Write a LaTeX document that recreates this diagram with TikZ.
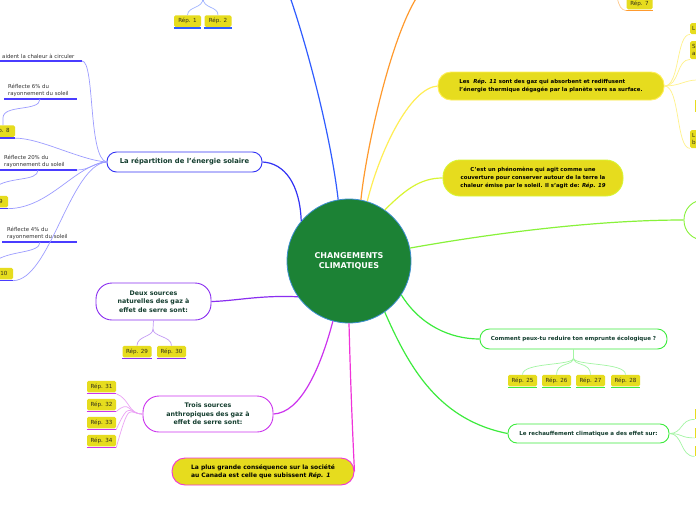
\documentclass[tikz,border=0pt]{standalone}
\usepackage{fontspec}
\setmainfont{DejaVu Sans}
\definecolor{cfill}{HTML}{1C8235}
\definecolor{cring}{HTML}{3D8FD1}
\definecolor{cyel}{HTML}{E6DC1E}
\definecolor{ctxt}{HTML}{133D2E}
\definecolor{crtxt}{HTML}{33301A}
\definecolor{ctopblue}{HTML}{2F5CFF}
\definecolor{ltopblue}{HTML}{A0B4FF}
\definecolor{cblue}{HTML}{3333F5}
\definecolor{lblue}{HTML}{9C9CFF}
\definecolor{cul}{HTML}{4A3CFF}
\definecolor{cpurp}{HTML}{8A2EF0}
\definecolor{lpurp}{HTML}{C49CF5}
\definecolor{cviol}{HTML}{CC33EE}
\definecolor{lviol}{HTML}{EBA3F5}
\definecolor{cpink}{HTML}{F033D9}
\definecolor{corange}{HTML}{FF9A2E}
\definecolor{lorange}{HTML}{FFC98A}
\definecolor{cyline}{HTML}{FFEE55}
\definecolor{lyline}{HTML}{FFF28A}
\definecolor{cyg}{HTML}{D9F533}
\definecolor{clg}{HTML}{88F23A}
\definecolor{cgreen}{HTML}{3DEB3D}
\definecolor{lgreen}{HTML}{A3F5A3}
\newcommand\ftopic{\fontsize{6.3}{8.4}\selectfont\bfseries}
\newcommand\ftopicL{\fontsize{6.8}{8.4}\selectfont\bfseries}
\newcommand\ftopicS{\fontsize{5.5}{8.4}\selectfont\bfseries}
\newcommand\fyel{\fontsize{5.4}{8.4}\selectfont\bfseries}
\newcommand\fplus{\fontsize{6.0}{8.2}\selectfont\bfseries}
\newcommand\frep{\fontsize{5.6}{6.5}\selectfont}
\newcommand\fleft{\fontsize{5.4}{7.2}\selectfont}
\newcommand\fcentre{\fontsize{8}{10}\selectfont\bfseries}
\tikzset{
  topic/.style={draw, fill=white, line width=0.9pt, inner sep=0pt, text=ctxt, font=\ftopic, align=center},
  yeltopic/.style={draw, fill=cyel, line width=0.9pt, inner sep=0pt, text=black, font=\fyel},
  repbox/.style={fill=cyel, rounded corners=1.5pt, minimum width=29pt, minimum height=11.5pt, inner sep=0pt, text=crtxt, font=\frep},
  uline/.style={line width=1.4pt},
  main/.style={line width=1.2pt},
  sub/.style={line width=0.7pt},
  lefttext/.style={inner sep=0pt, text=black!80, font=\fleft, align=left}
}
\begin{document}
\begin{tikzpicture}[x=1pt,y=-1pt]
\useasboundingbox (0,0) rectangle (696,520);
\clip (0,0) rectangle (696,520);
\fill[white] (0,0) rectangle (696,520);

\coordinate (topblueend) at (290,-3);
\coordinate (toporangeend) at (417,-3);
\coordinate (rep7stub) at (617,-3);
\coordinate (rep12stub) at (203,-2);

% centre
\node[circle, fill=cfill, draw=cring, line width=0.8pt, minimum size=124pt, inner sep=0pt, text=white, font=\fcentre, align=center] (c) at (349,261) {CHANGEMENTS\\CLIMATIQUES};

% topics
\node[topic, draw=cblue, minimum width=155pt, minimum height=20pt, rounded corners=9.5pt, font=\ftopicL] (repart) at (184.5,162) {La répartition de l'énergie solaire};
\node[topic, draw=cpurp, minimum width=115pt, minimum height=37pt, rounded corners=16pt] (deux) at (153.5,301.5) {Deux sources\\naturelles des gaz à\\effet de serre sont:};
\node[topic, draw=cviol, minimum width=130pt, minimum height=36pt, rounded corners=16pt] (trois) at (208,414) {Trois sources\\anthropiques des gaz à\\effet de serre sont:};
\node[yeltopic, draw=cpink, minimum width=182pt, minimum height=27pt, rounded corners=13pt, align=left, font=\fplus] (plus) at (263,471.5) {La plus grande conséquence sur la société\\au Canada est celle que subissent \textit{Rép. 1}};
\node[yeltopic, draw=cyline, minimum width=226pt, minimum height=28pt, rounded corners=13pt, align=left] (les) at (551,86) {Les \ \textit{Rép. 11} sont des gaz qui absorbent et rediffusent\\l'énergie thermique dégagée par la planète vers sa surface.};
\node[yeltopic, draw=cyg, minimum width=180pt, minimum height=36pt, rounded corners=17pt, align=center] (cest) at (533,178) {C'est un phénomène qui agit comme une\\couverture pour conserver autour de la terre la\\chaleur émise par le soleil. Il s'agit de: \textit{Rép. 19}};
\node[topic, draw=cgreen, minimum width=187pt, minimum height=20pt, rounded corners=9.5pt, font=\ftopicS] (comment) at (573.5,339) {Comment peux-tu reduire ton emprunte écologique ?};
\node[topic, draw=cgreen, minimum width=161pt, minimum height=19pt, rounded corners=9pt, font=\ftopicS] (rech) at (588.5,433.5) {Le rechauffement climatique a des effet sur:};
\node[topic, draw=clg, minimum width=56pt, minimum height=40pt, rounded corners=19.5pt] (rightnode) at (712,220) {};

% main connectors
\draw[main, ctopblue] (c.100) .. controls (330,130) and (305,40) .. (topblueend);
\draw[main, corange] (c.79) .. controls (366,150) and (390,40) .. (toporangeend);
\draw[main, cyline] (c.73) .. controls (380,150) and (410,88) .. (les.west);
\draw[main, cyg] (c.55) .. controls (405,190) and (420,178) .. (cest.west);
\draw[main, clg] (c.12) .. controls (500,232) and (600,220) .. (rightnode.west);
\draw[main, cgreen] (c.-33) .. controls (420,325) and (450,339) .. (comment.west);
\draw[main, cgreen] (c.-55) .. controls (410,370) and (440,420) .. (rech.west);
\draw[main, cpink] (c.-90) .. controls (351,400) and (353,440) .. (plus.east);
\draw[main, cviol] (c.-105) .. controls (320,370) and (300,413) .. (trois.east);
\draw[main, cpurp] (c.-145) .. controls (260,295) and (235,301) .. (deux.east);
\draw[main, cblue] (c.140) .. controls (300,185) and (285,163) .. (repart.east);

% ---- Rép boxes
\node[repbox, minimum width=27pt] (r1) at (187.5,21) {Rép. 1};
\node[repbox, minimum width=27pt] (r2) at (218,21) {Rép. 2};
\node[repbox, minimum width=26pt] (r7) at (639.5,3.5) {Rép. 7};
\node[repbox] (r8) at (0.5,131) {Rép. 8};
\node[repbox] (r9) at (-6.5,201.5) {Rép. 9};
\node[repbox, minimum width=33pt] (r10) at (-3.5,273.5) {Rép. 10};
\node[repbox] (r29) at (137,351.5) {Rép. 29};
\node[repbox] (r30) at (171.5,351.5) {Rép. 30};
\node[repbox] (r31) at (101.5,386.5) {Rép. 31};
\node[repbox] (r32) at (101.5,404.5) {Rép. 32};
\node[repbox] (r33) at (101.5,422.5) {Rép. 33};
\node[repbox] (r34) at (101.5,440.5) {Rép. 34};
\node[repbox] (r25) at (522.5,380.5) {Rép. 25};
\node[repbox] (r26) at (556.5,380.5) {Rép. 26};
\node[repbox] (r27) at (590.5,380.5) {Rép. 27};
\node[repbox] (r28) at (625.5,380.5) {Rép. 28};

\foreach \n/\col in {r1/ctopblue, r2/ctopblue, r7/corange, r8/cul, r9/cul, r10/cul, r29/cpurp, r30/cpurp, r31/cviol, r32/cviol, r33/cviol, r34/cviol, r25/cgreen, r26/cgreen, r27/cgreen, r28/cgreen}
  \draw[uline, \col] ([yshift=-1.2pt]\n.south west) -- ([yshift=-1.2pt]\n.south east);

% partial yellow boxes at right edge
\node[fill=cyel, rounded corners=1.5pt, minimum width=20pt, minimum height=11pt, inner sep=0pt, anchor=north west, text=crtxt, font=\frep, align=left, text width=16pt] (ry1) at (690,23) {L};
\node[fill=cyel, rounded corners=1.5pt, minimum width=20pt, minimum height=18pt, inner sep=0pt, anchor=north west, text=crtxt, font=\frep, align=left, text width=16pt] (ry2) at (690,41) {S\\a};
\node[fill=cyel, minimum width=10pt, minimum height=12pt, inner sep=0pt, anchor=north west] (ry3) at (694.5,100) {};
\node[fill=cyel, rounded corners=1.5pt, minimum width=20pt, minimum height=18pt, inner sep=0pt, anchor=north west, text=crtxt, font=\frep, align=left, text width=16pt] (ry4) at (690,130) {L\\b};
\coordinate (ryedge) at (697,80);
\node[fill=cyel, minimum width=10pt, minimum height=10pt, inner sep=0pt, anchor=north west] (rg1) at (694.5,409) {};
\node[fill=cyel, minimum width=10pt, minimum height=10pt, inner sep=0pt, anchor=north west] (rg2) at (694.5,427.5) {};
\node[fill=cyel, minimum width=10pt, minimum height=10pt, inner sep=0pt, anchor=north west] (rg3) at (694.5,446) {};

% ---- left texts
\node[lefttext, anchor=south west] (taid) at (2,59) {aident la chaleur à circuler};
\node[lefttext, anchor=south west] (t6) at (8,97) {Réflecte 6\% du\\rayonnement du soleil};
\node[lefttext, anchor=south west] (t20) at (4,168) {Réflecte 20\% du\\rayonnement du soleil};
\node[lefttext, anchor=south west] (t4) at (7,240) {Réflecte 4\% du\\rayonnement du soleil};
\coordinate (uaidA) at (-2,61); \coordinate (uaidB) at (82,61);
\coordinate (u6A) at (4,99); \coordinate (u6B) at (77,99); \coordinate (u6M) at (40,99);
\coordinate (u20A) at (-2,170); \coordinate (u20B) at (77,170); \coordinate (u20M) at (38,170);
\coordinate (u4A) at (2,242); \coordinate (u4B) at (77,242); \coordinate (u4M) at (40,242);
\draw[uline, cul] (uaidA) -- (uaidB);
\draw[uline, cul] (u6A) -- (u6B);
\draw[uline, cul] (u20A) -- (u20B);
\draw[uline, cul] (u4A) -- (u4B);
\coordinate (off20) at (-6,188);
\coordinate (off4) at (-6,262);

% ---- sub connectors
\draw[sub, lblue] (repart.west) .. controls (88,158) and (95,61) .. (uaidB);
\draw[sub, lblue] (repart.west) .. controls (80,160) and (40,138) .. ([yshift=-1.2pt]r8.south east);
\draw[sub, lblue] (repart.west) .. controls (95,162) and (90,170) .. (u20B);
\draw[sub, lblue] (repart.west) .. controls (75,165) and (50,208) .. ([yshift=-1.2pt]r9.south east);
\draw[sub, lblue] (repart.west) .. controls (70,165) and (50,280) .. ([yshift=-1.2pt]r10.south east);
\draw[sub, lblue] (u6M) .. controls (40,112) and (3,104) .. (3,118) -- (r8.north -| 3,0);
\draw[sub, lblue] (u20M) .. controls (38,182) and (8,176) .. (off20);
\draw[sub, lblue] (u4M) .. controls (40,254) and (8,250) .. (off4);

\draw[sub, ltopblue] (rep12stub) .. controls (203,9) and (188,6) .. (r1.north);
\draw[sub, ltopblue] (rep12stub) .. controls (203,9) and (218,6) .. (r2.north);
\draw[sub, lorange] (rep7stub) .. controls (619,6) and (621,10) .. ([yshift=-1.2pt]r7.south west);

\draw[sub, lpurp] (deux.south) -- (153,329) .. controls (153,337) and (137,336) .. (r29.north);
\draw[sub, lpurp] (153,329) .. controls (153,337) and (171.5,336) .. (r30.north);

\foreach \n in {r31,r32,r33,r34}
  \draw[sub, lviol] (trois.west) .. controls (128,414) and (130,399) .. ([yshift=-1.2pt]\n.south east);

\draw[sub, lgreen] (comment.south) -- (573.5,358);
\foreach \n in {r25,r26,r27,r28}
  \draw[sub, lgreen] (573.5,358) .. controls (573.5,366) and (\n.north |- 0,362) .. (\n.north);

\foreach \n in {ry1,ry2,ry4}
  \draw[sub, lyline] (les.east) .. controls (680,86) and (676,0 |- \n.south west) .. (\n.south west);
\draw[sub, lyline] (les.east) .. controls (680,86) and (685,80) .. (ryedge);

\foreach \n in {rg1,rg2,rg3}
  \draw[sub, lgreen] (rech.east) .. controls (683,433.5) and (680,0 |- \n.south west) .. (\n.south west);

\end{tikzpicture}
\end{document}
